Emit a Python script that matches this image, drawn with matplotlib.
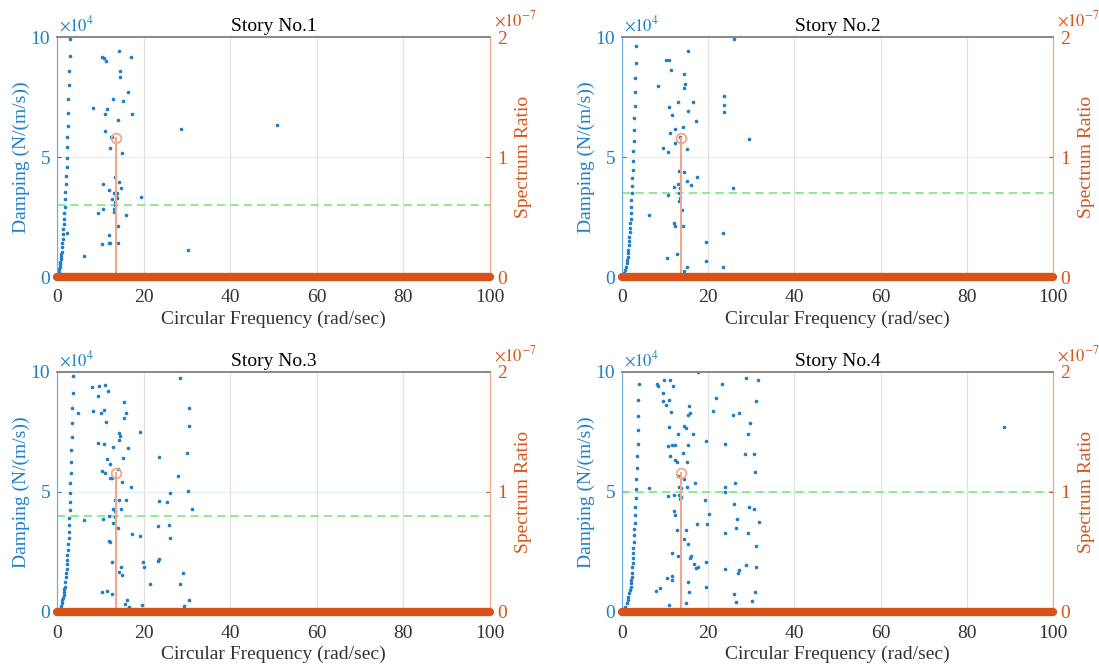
import numpy as np
import matplotlib.pyplot as plt
from matplotlib.ticker import FuncFormatter

plt.rcParams['font.family'] = ['Liberation Serif', 'DejaVu Serif']
plt.rcParams['mathtext.fontset'] = 'stix'

titles = ['Story No.1', 'Story No.2', 'Story No.3', 'Story No.4']

# damping points: (circular frequency rad/sec, damping x1e4 N/(m/s))
story1 = [
    (0.05, 0.01), (0.15, 0.05), (0.25, 0.12), (0.4, 0.22), (0.5, 0.32), (0.6, 0.43), (0.7, 0.53),
    (0.8, 0.64), (0.87, 0.74), (0.94, 0.85), (1.02, 0.95), (1.1, 1.06), (1.17, 1.24), (1.25, 1.4),
    (1.33, 1.58), (1.4, 1.8), (1.5, 1.99), (1.55, 2.2), (1.65, 2.42), (1.7, 2.65), (1.8, 2.93),
    (1.9, 3.24), (1.95, 3.53), (2.0, 3.86), (2.1, 4.2), (2.2, 4.6), (2.27, 4.97), (2.33, 5.4),
    (2.4, 5.85), (2.5, 6.3), (2.6, 6.85), (2.65, 7.4), (2.7, 8.0), (2.8, 8.6), (2.9, 9.2), (2.9, 9.9),
    (2.27, 1.85),
    (14.3, 9.42), (10.3, 9.15), (10.9, 9.14), (11.3, 8.99), (17.0, 9.18), (14.6, 8.57), (14.45, 8.33),
    (16.5, 7.7), (13.0, 7.42), (15.2, 7.35), (8.3, 7.03), (11.6, 6.99), (11.0, 6.78), (17.4, 6.8),
    (14.1, 6.54), (11.0, 6.07), (12.5, 5.85), (12.7, 5.82), (12.2, 5.36), (14.9, 5.15), (13.3, 4.18),
    (14.3, 3.96), (10.6, 3.88), (14.8, 3.69), (12.0, 3.61), (13.1, 3.51), (13.75, 3.49), (13.6, 3.39),
    (13.9, 3.31), (12.8, 3.25), (19.45, 3.35), (13.4, 3.14), (13.4, 3.0), (10.7, 2.83), (9.4, 2.65),
    (13.1, 2.85), (13.2, 2.7), (15.9, 2.58), (14.0, 2.13), (12.1, 1.75), (10.5, 1.39), (12.0, 1.43),
    (12.3, 1.4), (14.1, 1.43), (6.25, 0.89), (28.7, 6.15), (50.8, 6.33), (30.2, 1.14),
]
story2 = [
    (0.05, 0.01), (0.3, 0.08), (0.55, 0.18), (0.8, 0.29), (0.95, 0.43), (1.1, 0.57), (1.22, 0.71),
    (1.33, 0.85), (1.42, 0.99), (1.5, 1.13), (1.56, 1.33), (1.64, 1.51), (1.7, 1.68), (1.8, 1.86),
    (1.9, 2.04), (1.95, 2.24), (2.03, 2.43), (2.1, 2.67), (2.1, 2.93), (2.2, 3.19), (2.27, 3.49),
    (2.33, 3.8), (2.4, 4.14), (2.5, 4.47), (2.6, 4.85), (2.66, 5.24), (2.73, 5.67), (2.8, 6.14),
    (2.9, 6.63), (2.97, 7.14), (3.1, 7.71), (3.1, 8.29), (3.2, 8.93), (3.3, 9.63),
    (15.4, 9.42), (10.2, 9.03), (10.9, 9.04), (11.4, 8.64), (14.3, 8.47), (14.7, 8.06), (14.4, 7.86),
    (8.4, 7.97), (13.1, 7.31), (16.5, 7.31), (11.0, 7.1), (15.2, 6.92), (11.6, 6.76), (17.1, 6.51),
    (14.1, 6.26), (12.3, 6.17), (11.1, 5.99), (12.2, 5.57), (9.45, 5.38), (10.6, 5.19), (15.1, 5.35),
    (13.4, 5.85), (13.3, 4.42), (14.3, 4.36), (15.1, 4.0), (16.0, 3.85), (17.5, 4.15), (12.0, 3.76),
    (13.1, 3.89), (13.4, 3.71), (13.2, 3.51), (13.4, 3.31), (13.2, 3.18), (10.6, 3.4), (14.0, 2.79),
    (6.3, 2.57), (12.0, 2.24), (12.2, 2.13), (14.1, 2.14), (19.4, 1.44), (12.7, 0.97), (10.5, 0.79),
    (19.6, 0.68), (15.0, 0.4), (14.5, 0.24),
    (26.1, 9.9), (23.7, 7.54), (23.7, 7.18), (23.7, 6.86), (29.4, 5.74), (25.8, 3.71), (23.5, 1.85),
    (23.5, 0.42),
]
story3 = [
    (0.1, 0.02), (0.35, 0.06), (0.6, 0.13), (0.85, 0.24), (1.1, 0.36), (1.25, 0.48), (1.4, 0.6),
    (1.52, 0.72), (1.64, 0.85), (1.72, 0.95), (1.8, 1.06), (1.95, 1.26), (2.03, 1.44), (2.1, 1.61),
    (2.2, 1.79), (2.27, 1.99), (2.34, 2.17), (2.42, 2.38), (2.5, 2.58), (2.58, 2.83), (2.66, 3.08),
    (2.66, 3.35), (2.73, 3.63), (2.8, 3.93), (2.9, 4.24), (2.97, 4.6), (3.05, 4.97), (3.1, 5.38),
    (3.2, 5.8), (3.2, 6.26), (3.28, 6.75), (3.36, 7.29), (3.44, 7.88), (3.5, 8.49), (3.6, 9.14),
    (3.7, 9.83),
    (8.1, 9.36), (9.8, 9.42), (11.2, 9.47), (9.5, 9.01), (11.8, 9.19), (15.5, 8.74), (4.8, 8.31),
    (8.3, 8.36), (10.2, 8.31), (10.9, 8.4), (15.9, 8.31), (15.4, 8.08), (11.4, 7.93), (19.2, 7.51),
    (14.3, 7.47), (14.6, 7.32), (14.4, 7.18), (9.4, 7.06), (10.9, 6.99), (13.0, 6.89), (16.5, 6.83),
    (11.6, 6.38), (15.2, 6.43), (12.3, 6.17), (14.1, 5.97), (10.5, 5.88), (11.0, 5.81), (12.2, 5.6),
    (12.6, 5.6), (15.0, 5.4), (17.0, 5.19), (13.4, 4.65), (14.3, 4.65), (15.9, 4.65), (13.0, 4.29),
    (13.5, 4.22), (14.8, 4.29), (12.0, 4.01), (13.4, 3.97), (6.25, 3.83), (10.6, 3.89), (13.0, 3.71),
    (14.0, 3.49), (17.3, 3.26), (19.2, 3.15), (12.0, 2.97), (12.3, 2.92), (12.6, 2.1), (14.8, 1.86),
    (14.4, 1.65), (15.0, 1.53), (10.4, 0.85), (11.6, 0.86), (12.8, 0.76), (16.2, 0.49), (15.7, 0.35),
    (16.7, 0.19), (19.6, 0.29), (19.8, 2.08), (20.2, 1.89), (21.5, 1.17),
    (28.3, 9.75), (30.6, 8.5), (30.4, 7.75), (23.6, 6.47), (30.1, 6.64), (28.0, 5.68), (26.2, 4.97),
    (30.3, 5.04), (23.5, 4.63), (25.5, 4.6), (31.1, 4.28), (23.3, 3.6), (25.9, 3.61), (26.0, 3.1),
    (23.3, 2.14), (23.5, 2.2), (29.0, 1.63), (28.3, 1.15), (30.6, 0.51), (29.3, 0.26),
]
story4 = [
    (0.1, 0.02), (0.3, 0.06), (0.55, 0.14), (0.8, 0.22), (1.05, 0.36), (1.33, 0.5), (1.5, 0.64),
    (1.7, 0.78), (1.87, 0.92), (2.03, 1.06), (2.12, 1.2), (2.2, 1.33), (2.27, 1.47), (2.34, 1.61),
    (2.42, 1.88), (2.5, 2.06), (2.58, 2.25), (2.58, 2.46), (2.66, 2.68), (2.73, 2.93), (2.8, 3.19),
    (2.9, 3.44), (2.97, 3.72), (3.05, 4.03), (3.1, 4.36), (3.2, 4.76), (3.28, 5.14), (3.36, 5.56),
    (3.44, 5.99), (3.5, 6.49), (3.6, 7.01), (3.67, 7.57), (3.75, 8.15), (3.8, 8.83), (3.9, 9.51),
    (17.7, 10.0), (8.2, 9.5), (8.35, 9.42), (9.7, 9.67), (11.2, 9.67), (11.8, 9.42), (9.5, 9.13),
    (9.4, 8.79), (10.9, 8.82), (10.1, 8.63), (11.4, 8.35), (15.6, 8.57), (15.2, 8.21), (15.8, 8.28),
    (11.0, 7.72), (14.5, 7.75), (14.8, 7.65), (13.1, 7.43), (16.5, 7.4), (10.6, 6.93), (11.5, 6.94),
    (12.2, 6.94), (15.2, 6.97), (14.1, 6.61), (11.1, 6.49), (12.4, 6.35), (12.8, 6.26), (15.1, 6.24),
    (13.0, 5.65), (14.4, 5.56), (17.0, 5.39), (6.3, 5.18), (13.3, 5.21), (13.6, 5.15), (15.0, 5.19),
    (10.7, 4.83), (12.0, 4.86), (13.2, 4.89), (13.75, 4.79), (13.4, 4.71), (12.0, 4.19), (12.2, 4.04),
    (19.3, 4.67), (17.4, 3.68), (19.8, 3.68), (12.7, 3.42), (14.9, 3.42), (14.4, 3.06), (15.2, 2.85),
    (11.6, 2.47), (12.9, 2.33), (16.1, 2.35), (15.8, 2.24), (16.6, 2.0), (17.6, 1.88), (17.2, 1.82),
    (19.5, 2.1), (11.6, 1.51), (11.5, 1.33), (10.5, 1.43), (15.3, 1.24), (8.9, 0.99), (7.9, 0.86),
    (19.6, 1.06), (15.5, 0.83), (11.0, 0.28), (14.8, 0.36),
    (28.7, 9.74), (31.6, 9.68), (23.1, 9.49), (21.8, 8.9), (31.2, 8.78), (21.2, 8.39), (25.8, 8.22),
    (27.2, 8.29), (29.8, 7.89), (19.4, 7.13), (23.9, 7.01), (29.2, 7.42), (28.6, 6.6), (30.6, 6.6),
    (30.8, 5.83), (23.8, 5.22), (23.8, 5.0), (26.3, 5.38), (26.0, 4.51), (29.5, 4.38), (30.7, 4.31),
    (20.3, 4.1), (26.6, 3.86), (31.8, 3.74), (26.4, 3.5), (23.8, 3.28), (29.3, 3.29), (31.1, 2.75),
    (23.8, 1.81), (28.7, 1.97), (31.1, 1.86), (27.2, 1.74), (26.9, 1.61), (25.9, 0.74), (30.8, 0.83),
    (26.5, 0.42), (30.2, 0.44), (88.6, 7.71),
]
stories = [story1, story2, story3, story4]

# green dashed level per story (x1e4 N/(m/s))
threshold = [3.0, 3.5, 4.0, 5.0]

# spectrum ratio: zero everywhere except the one peak
spec_freq = [0, 100]
spec_zero = [0, 0]
peak_freq = 13.6
peak_ratio = 1.16e-7

blue = '#1f7fc8'
orange = '#D95319'
salmon = '#F2A68C'

W, H = 1099, 666
# axes boxes in pixels: left, top, right, bottom
boxes = [(57, 37, 490, 277), (622, 37, 1053, 277), (57, 372, 490, 612), (622, 372, 1053, 612)]

fig = plt.figure(figsize=(W / 100, H / 100), dpi=100)

for i in range(4):
    l, t, r, b = boxes[i]
    ax = fig.add_axes([l / W, (H - b) / H, (r - l) / W, (b - t) / H])
    fx = [p[0] for p in stories[i]]
    dy = np.array([p[1] for p in stories[i]]) * 1e4

    ax.axhline(5e4, color='#e6eff7', lw=0.9, zorder=0)
    ax.plot(fx, dy, '.', color=blue, ms=3.2, zorder=3)
    ax.axhline(threshold[i] * 1e4, color='#7be87b', ls=(0, (5, 3)), lw=1.2, zorder=2)

    ax.set_xlim(0, 100)
    ax.set_ylim(0, 1e5)
    ax.set_xticks(range(0, 101, 20))
    ax.set_yticks([0, 5e4, 1e5])
    ax.yaxis.set_major_formatter(FuncFormatter(lambda v, p: f'{v / 1e4:g}'))
    ax.grid(axis='x', color='#e2e2e2', lw=0.9)
    ax.set_axisbelow(True)
    ax.tick_params(direction='in', length=3, labelsize=14)
    ax.tick_params(axis='y', colors=blue, pad=5)
    ax.tick_params(axis='x', colors='#333333', pad=9)
    ax.set_xlabel('Circular Frequency (rad/sec)', fontsize=14, color='#333333', labelpad=3)
    ax.set_ylabel('Damping (N/(m/s))', fontsize=14, color=blue, labelpad=0)
    ax.set_title(titles[i], fontsize=14, pad=4)
    ax.text(0.005, 1.01, r'$\times10^{4}$', transform=ax.transAxes, ha='left', va='bottom',
            color=blue, fontsize=12)

    ax2 = ax.twinx()
    ax2.set_ylim(0, 2e-7)
    ax2.set_yticks([0, 1e-7, 2e-7])
    ax2.yaxis.set_major_formatter(FuncFormatter(lambda v, p: f'{v / 1e-7:g}'))
    ax2.plot(spec_freq, spec_zero, color=orange, lw=6, solid_capstyle='round', clip_on=False, zorder=4)
    ax2.plot([peak_freq, peak_freq], [0, peak_ratio], color=salmon, lw=1.5, zorder=3)
    ax2.plot([peak_freq], [peak_ratio], 'o', mfc='none', mec=salmon, mew=1.3, ms=7, zorder=3)
    ax2.tick_params(direction='in', length=3, labelsize=14, colors=orange, pad=5)
    ax2.set_ylabel('Spectrum Ratio', fontsize=14, color=orange, labelpad=6)
    ax2.text(1.01, 1.03, r'$\times10^{-7}$', transform=ax2.transAxes, ha='left', va='bottom',
             color=orange, fontsize=12)

    for a in (ax, ax2):
        a.spines['left'].set_color('#6fb0e0')
        a.spines['right'].set_color(salmon)
        a.spines['top'].set_color('#8a8a8a')
        a.spines['top'].set_linewidth(1.3)
        a.spines['bottom'].set_color(orange)

fig.savefig('out.png', dpi=100)
